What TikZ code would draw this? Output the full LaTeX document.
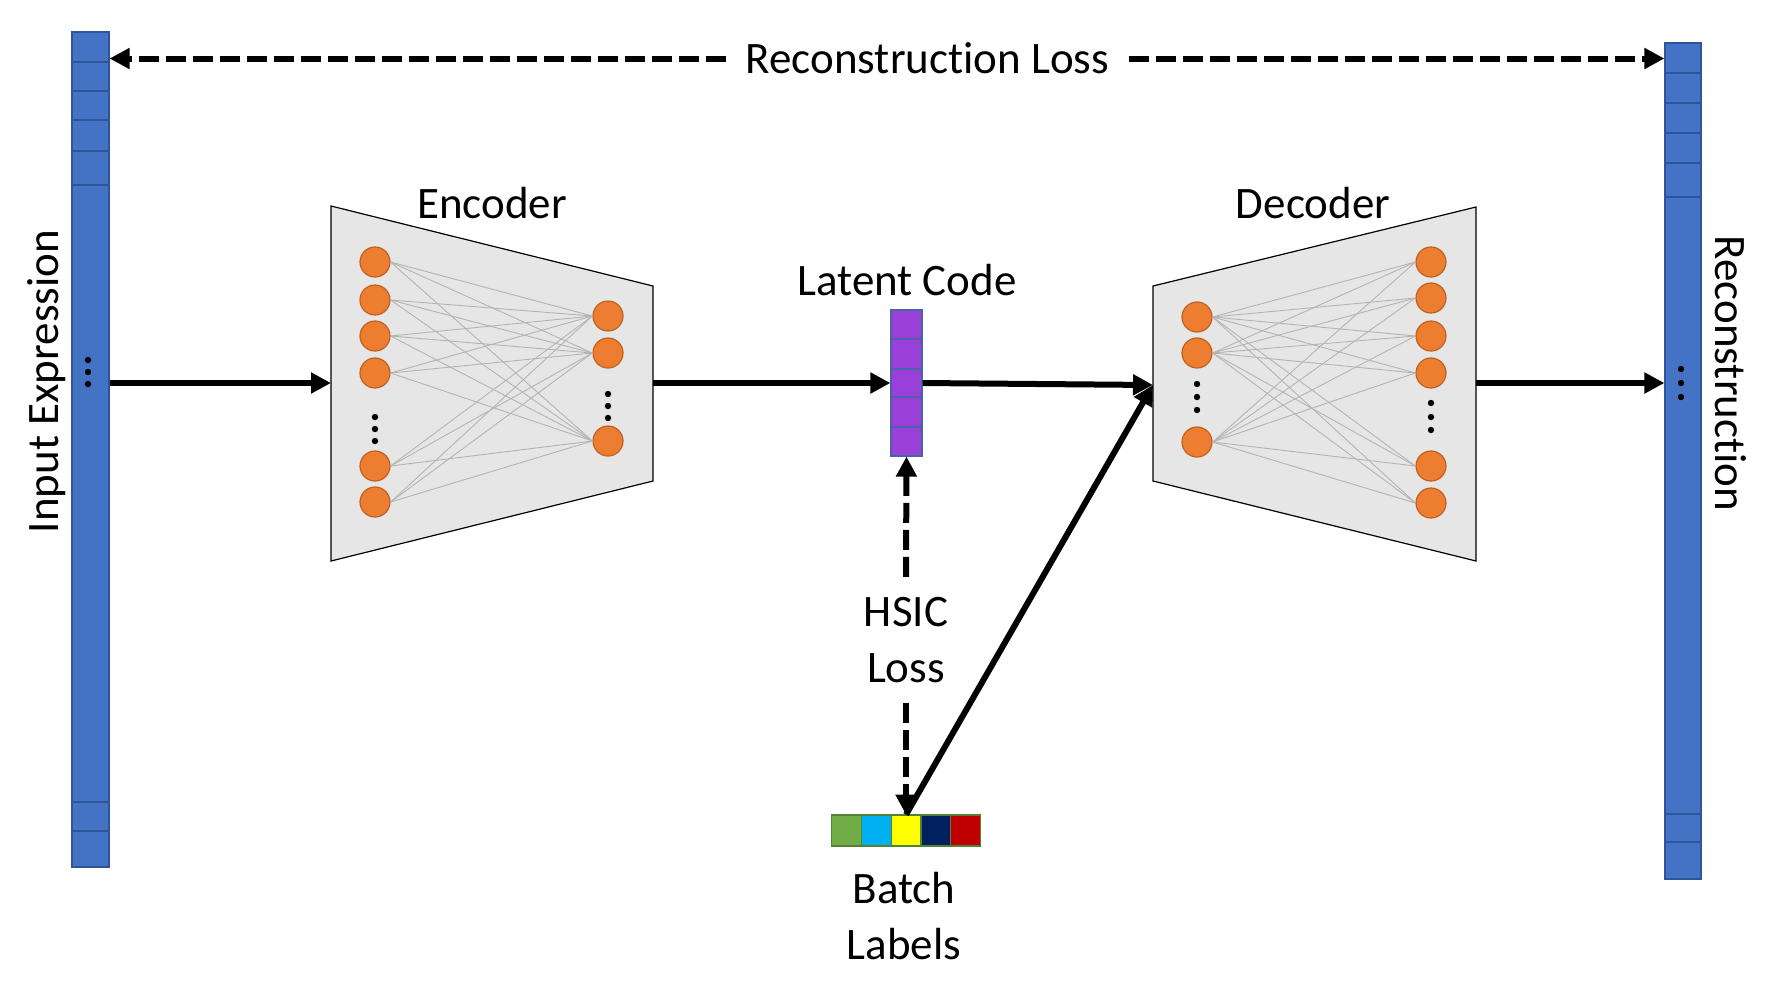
\documentclass[tikz,border=0pt]{standalone}
\usepackage{fontspec}
\setmainfont{Carlito}[Ligatures=NoCommon]
\usetikzlibrary{arrows.meta}
\definecolor{barblue}{HTML}{4472C4}
\definecolor{barborder}{HTML}{2F5597}
\definecolor{latpurple}{HTML}{9A3FD8}
\definecolor{latborder}{HTML}{4A62A8}
\definecolor{trapgray}{HTML}{E6E6E6}
\definecolor{neuronfill}{HTML}{ED7D31}
\definecolor{neuronborder}{HTML}{C0611E}
\definecolor{conngray}{HTML}{B4B4B4}
\definecolor{bgreen}{HTML}{70AD47}
\definecolor{bcyan}{HTML}{00B0F0}
\definecolor{byellow}{HTML}{FFFF00}
\definecolor{bnavy}{HTML}{002060}
\definecolor{bred}{HTML}{C00000}
\definecolor{batchborder}{HTML}{548235}
\begin{document}
\begin{tikzpicture}[x=0.5pt,y=-0.5pt,
  lbl/.style={font=\fontsize{22.5}{28}\selectfont, inner sep=0pt},
  neur/.style={circle, fill=neuronfill, draw=neuronborder, line width=0.6pt, minimum size=15pt, inner sep=0pt},
  connline/.style={draw=conngray, line width=0.45pt},
  barbox/.style={rectangle, fill=barblue, draw=barborder, line width=0.6pt, inner sep=0pt},
  barline/.style={draw=barborder, line width=0.7pt},
  latbox/.style={rectangle, fill=latpurple, draw=latborder, line width=0.6pt, inner sep=0pt},
  trap/.style={fill=trapgray, draw=black, line width=0.6pt},
  bigarrow/.style={line width=3pt, -{Triangle[length=10pt,width=10pt]}},
  dasharrow/.style={line width=3pt, dash pattern=on 10pt off 3.5pt, -{Triangle[length=10pt,width=10pt]}},
  dotmark/.style={fill=black}
]
\useasboundingbox (0,0) rectangle (1774,998);
\fill[white] (0,0) rectangle (1774,998);

% bars
\node[barbox, minimum width=18.5pt, minimum height=417.5pt] (inbar) at (90.5,449.5) {};
\foreach \y in {62,91,120,151,185,802,831} \draw[barline] (72,\y) -- (109,\y);
\node[barbox, minimum width=18pt, minimum height=418pt] (recbar) at (1683,461) {};
\foreach \y in {73,103,133,163,197,814,842} \draw[barline] (1665,\y) -- (1701,\y);
\foreach \y in {360,372,384} \fill[dotmark] (88,\y) circle[radius=1.6pt];
\foreach \y in {369,383,397} \fill[dotmark] (1681,\y) circle[radius=1.6pt];

% trapezoids
\draw[trap] (331,206) -- (653,286) -- (653,481) -- (331,561) -- cycle;
\draw[trap] (1153,286) -- (1476,207) -- (1476,561) -- (1153,481) -- cycle;
\coordinate (encL) at (331,383);
\coordinate (encR) at (653,383);
\coordinate (decL) at (1153,385);
\coordinate (decR) at (1476,383);

% encoder neurons
\foreach \y [count=\i] in {262,300,336,373,466,502} \node[neur] (e\i) at (375,\y) {};
\foreach \y [count=\i] in {316,353,441} \node[neur] (f\i) at (608,\y) {};
\foreach \i in {1,...,6} \foreach \j in {1,2,3} \draw[connline] (e\i.east) -- (f\j.west);
\foreach \y in {417,429,441} \fill[dotmark] (375,\y) circle[radius=1.6pt];
\foreach \y in {394,406,418} \fill[dotmark] (608,\y) circle[radius=1.6pt];

% decoder neurons
\foreach \y [count=\i] in {317,353,442} \node[neur] (d\i) at (1197,\y) {};
\foreach \y [count=\i] in {262,298,336,373,466,503} \node[neur] (g\i) at (1431,\y) {};
\foreach \i in {1,2,3} \foreach \j in {1,...,6} \draw[connline] (d\i.east) -- (g\j.west);
\foreach \y in {384,397,410} \fill[dotmark] (1197,\y) circle[radius=1.6pt];
\foreach \y in {403,417,430} \fill[dotmark] (1431,\y) circle[radius=1.6pt];

% latent code
\node[latbox, minimum width=15.5pt, minimum height=73pt] (lat) at (906.5,383) {};
\foreach \y in {339,369,397,427} \draw[draw=latborder, line width=0.8pt] (891,\y) -- (922,\y);

% batch labels box
\node[inner sep=0pt, minimum width=74.5pt, minimum height=15.5pt] (batch) at (906,830.5) {};
\foreach \c [count=\i from 0] in {bgreen,bcyan,byellow,bnavy,bred}
  \filldraw[fill=\c, draw=batchborder, line width=0.6pt] ({831.5+\i*29.8},815) rectangle ({831.5+(\i+1)*29.8},846);

% labels
\node[lbl, anchor=base] (rl) at (927.5,73) {Reconstruction Loss};
\node[lbl, anchor=base] (enclbl) at (492,218) {Encoder};
\node[lbl, anchor=base] (declbl) at (1313,218) {Decoder};
\node[lbl, anchor=base] (latlbl) at (907,295) {Latent Code};
\node[lbl, anchor=base, rotate=90] (inlbl) at (58,381.5) {Input Expression};
\node[lbl, anchor=base, rotate=-90] (reclbl) at (1715,373.5) {Reconstruction};
\node[lbl, align=center, inner ysep=10pt] (hsic) at (906,640) {HSIC\\Loss};
\node[lbl, align=center] (bl) at (904,916) {Batch\\Labels};

% connectors
\coordinate (rlL) at (726,58.5);
\coordinate (rlR) at (1129,58.5);
\draw[dasharrow] (rlL) -- (inbar.east |- rlL);
\draw[dasharrow] (rlR) -- (recbar.west |- rlR);
\draw[bigarrow] (inbar.east |- encL) -- (encL);
\draw[bigarrow] (encR) -- (lat.west |- encR);
\draw[bigarrow] (lat.east) -- (decL);
\draw[bigarrow] (decR) -- (recbar.west |- decR);
\draw[bigarrow] (batch.north) -- (decL);
\draw[dasharrow] (hsic.north) -- (lat.south);
\draw[dasharrow] (hsic.south) -- (batch.north);
\end{tikzpicture}
\end{document}
